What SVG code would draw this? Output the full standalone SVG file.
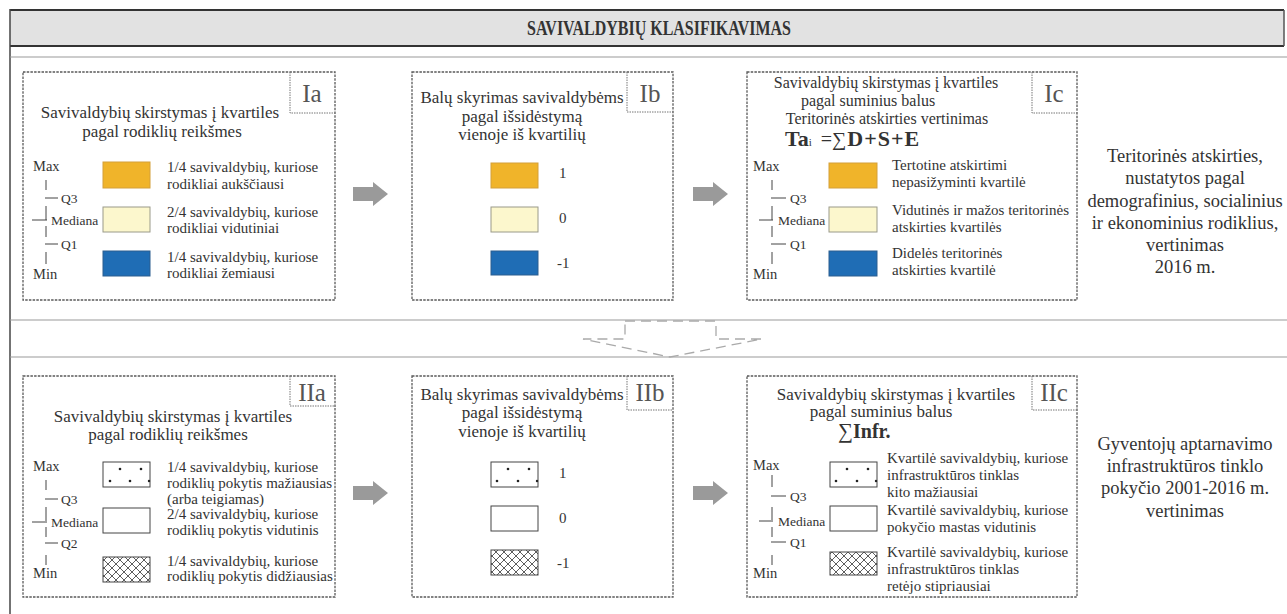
<svg xmlns="http://www.w3.org/2000/svg" width="1287" height="614" viewBox="0 0 1287 614">
<style>
text{font-family:"Liberation Serif","DejaVu Serif",serif;fill:#333}
.t17{font-size:17px}
.t16{font-size:16px}
.t15{font-size:15px}
.t14{font-size:14.5px}
.t13{font-size:13.5px}
.lab{font-size:25px;fill:#555}
.rt{font-size:18.5px;text-anchor:middle}
.mid{text-anchor:middle}
.box{fill:none;stroke:#5a5a5a;stroke-width:1.3;stroke-dasharray:2.5 1.2}
.lbox{fill:none;stroke:#777;stroke-width:1;stroke-dasharray:1.5 1}
.sep{stroke:#999;stroke-width:1.2}
.sc{stroke:#444;stroke-width:1;fill:none}
.sw-o{fill:#f0b42a;stroke:#d4a03a;stroke-width:1}
.sw-y{fill:#fcf7cd;stroke:#9a9a8a;stroke-width:1}
.sw-b{fill:#1f6db5;stroke:#2d5f8f;stroke-width:1}
.sw-w{fill:#fff;stroke:#444;stroke-width:1}
.sw-h{fill:url(#hatch);stroke:#444;stroke-width:1}
.arr{fill:#9a9a9a}
.dot{fill:#222}
</style>
<defs>
<pattern id="hatch" width="8" height="8" patternUnits="userSpaceOnUse">
<rect width="8" height="8" fill="#fff"/>
<path d="M0,0 L8,8 M8,0 L0,8 M-2,6 L2,10 M6,-2 L10,2 M-2,2 L2,-2 M6,10 L10,6" stroke="#333" stroke-width="0.8"/>
</pattern>
<path id="garrow" d="M0,-7 H20 V-12 L35,0 L20,12 V7 H0 Z"/>
</defs>

<!-- frame / header -->
<g id="header">
<rect x="10" y="10" width="1274" height="36" fill="#e2e2e2"/>
<line x1="10" y1="10" x2="1284" y2="10" stroke="#333" stroke-width="2"/>
<line x1="10" y1="46" x2="1284" y2="46" stroke="#333" stroke-width="2"/>
<line x1="1284" y1="10" x2="1284" y2="46" stroke="#555" stroke-width="1.5"/>
<line x1="10" y1="9" x2="10" y2="614" stroke="#444" stroke-width="1.5"/>
<text x="659" y="35" text-anchor="middle" font-weight="bold" font-size="20.5" textLength="264" lengthAdjust="spacingAndGlyphs">SAVIVALDYBIŲ KLASIFIKAVIMAS</text>
</g>
<g id="separators">
<line class="sep" x1="10" y1="57" x2="1287" y2="57"/>
<line class="sep" x1="10" y1="320" x2="1287" y2="320"/>
<line class="sep" x1="10" y1="357" x2="1287" y2="357"/>
</g>

<!-- Ia -->
<g id="Ia">
<rect class="box" x="23" y="72" width="312" height="228"/>
<path class="lbox" d="M290,72 V113 H335"/>
<text class="lab mid" x="312" y="102">Ia</text>
<text class="t17 mid" x="160" y="118">Savivaldybių skirstymas į kvartiles</text>
<text class="t17 mid" x="162" y="137">pagal rodiklių reikšmes</text>
<g class="scale">
<text class="t14" x="33" y="171">Max</text>
<path class="sc" d="M46,180 V190 M45,198 H58 M46,206 V220 M32,220 H47 M46,226 V237 M45,244 H58 M46,252 V264"/>
<text class="t13" x="61" y="203">Q3</text>
<text class="t13" x="51" y="225">Mediana</text>
<text class="t13" x="61" y="249">Q1</text>
<text class="t14" x="33" y="279">Min</text>
</g>
<rect class="sw-o" x="103" y="162" width="47" height="26"/>
<rect class="sw-y" x="103" y="207" width="47" height="25"/>
<rect class="sw-b" x="103" y="251" width="47" height="25"/>
<text class="t15" x="167" y="172">1/4 savivaldybių, kuriose</text>
<text class="t15" x="167" y="189">rodikliai aukščiausi</text>
<text class="t15" x="167" y="217">2/4 savivaldybių, kuriose</text>
<text class="t15" x="167" y="233">rodikliai vidutiniai</text>
<text class="t15" x="167" y="262">1/4 savivaldybių, kuriose</text>
<text class="t15" x="167" y="278">rodikliai žemiausi</text>
</g>

<!-- Ib -->
<g id="Ib">
<rect class="box" x="412" y="72" width="261" height="228"/>
<path class="lbox" d="M627,72 V112 H673"/>
<text class="lab mid" x="650" y="102">Ib</text>
<text class="t17 mid" x="522" y="103">Balų skyrimas savivaldybėms</text>
<text class="t17 mid" x="522" y="122">pagal išsidėstymą</text>
<text class="t17 mid" x="522" y="140">vienoje iš kvartilių</text>
<rect class="sw-o" x="491" y="163" width="47" height="25"/>
<rect class="sw-y" x="491" y="207" width="47" height="25"/>
<rect class="sw-b" x="491" y="251" width="47" height="24"/>
<text class="t15" x="559" y="178">1</text>
<text class="t15" x="559" y="223">0</text>
<text class="t15" x="557" y="268">-1</text>
</g>

<!-- Ic -->
<g id="Ic">
<rect class="box" x="747" y="72" width="330" height="228"/>
<path class="lbox" d="M1032,72 V113 H1077"/>
<text class="lab mid" x="1054" y="102">Ic</text>
<text class="t16 mid" x="886" y="88">Savivaldybių skirstymas į kvartiles</text>
<text class="t16 mid" x="868" y="106">pagal suminius balus</text>
<text class="t16 mid" x="887" y="124">Teritorinės atskirties vertinimas</text>
<text x="785" y="146"><tspan font-weight="bold" font-size="22">Ta</tspan><tspan font-size="11">i</tspan><tspan font-size="20" dx="9">=∑</tspan><tspan font-weight="bold" font-size="22" dx="1" letter-spacing="1">D+S+E</tspan></text>
<g class="scale">
<text class="t14" x="753" y="171">Max</text>
<path class="sc" d="M772,180 V190 M771,198 H786 M772,206 V220 M759,220 H773 M772,226 V237 M771,244 H786 M772,252 V264"/>
<text class="t13" x="790" y="203">Q3</text>
<text class="t13" x="778" y="225">Mediana</text>
<text class="t13" x="790" y="249">Q1</text>
<text class="t14" x="753" y="279">Min</text>
</g>
<rect class="sw-o" x="829" y="163" width="48" height="25"/>
<rect class="sw-y" x="829" y="207" width="48" height="25"/>
<rect class="sw-b" x="829" y="251" width="48" height="25"/>
<text class="t15" x="892" y="170">Tertotine atskirtimi</text>
<text class="t15" x="892" y="187">nepasižyminti kvartilė</text>
<text class="t15" x="892" y="215">Vidutinės ir mažos teritorinės</text>
<text class="t15" x="892" y="232">atskirties kvartilės</text>
<text class="t15" x="892" y="258">Didelės teritorinės</text>
<text class="t15" x="892" y="275">atskirties kvartilė</text>
</g>

<g id="note-top">
<text class="rt" x="1185" y="162">Teritorinės atskirties,</text>
<text class="rt" x="1185" y="184">nustatytos pagal</text>
<text class="rt" x="1185" y="207">demografinius, socialinius</text>
<text class="rt" x="1185" y="229">ir ekonominius rodiklius,</text>
<text class="rt" x="1185" y="251">vertinimas</text>
<text class="rt" x="1185" y="273">2016 m.</text>
</g>

<!-- IIa -->
<g id="IIa">
<rect class="box" x="23" y="376" width="312" height="221"/>
<path class="lbox" d="M290,376 V406 H335"/>
<text class="lab mid" x="312" y="401">IIa</text>
<text class="t17 mid" x="173" y="422">Savivaldybių skirstymas į kvartiles</text>
<text class="t17 mid" x="168" y="440">pagal rodiklių reikšmes</text>
<g class="scale">
<text class="t14" x="33" y="471">Max</text>
<path class="sc" d="M46,480 V490 M45,499 H58 M46,507 V521 M32,522 H47 M46,527 V537 M45,543 H58 M46,555 V565"/>
<text class="t13" x="61" y="504">Q3</text>
<text class="t13" x="51" y="527">Mediana</text>
<text class="t13" x="61" y="548">Q2</text>
<text class="t14" x="33" y="578">Min</text>
</g>
<g class="swatch-dots">
<rect class="sw-w" x="103" y="462" width="47" height="25"/>
<circle class="dot" cx="120" cy="469" r="1.3"/><circle class="dot" cx="141" cy="469" r="1.3"/>
<circle class="dot" cx="110" cy="481" r="1.3"/><circle class="dot" cx="130" cy="481" r="1.3"/><circle class="dot" cx="149" cy="481" r="1.2"/>
</g>
<rect class="sw-w" x="103" y="508" width="47" height="25"/>
<rect class="sw-h" x="103" y="557" width="47" height="25"/>
<text class="t15" x="167" y="472">1/4 savivaldybių, kuriose</text>
<text class="t15" x="167" y="488">rodiklių pokytis mažiausias</text>
<text class="t15" x="167" y="504">(arba teigiamas)</text>
<text class="t15" x="167" y="519">2/4 savivaldybių, kuriose</text>
<text class="t15" x="167" y="535">rodiklių pokytis vidutinis</text>
<text class="t15" x="167" y="566">1/4 savivaldybių, kuriose</text>
<text class="t15" x="167" y="581">rodiklių pokytis didžiausias</text>
</g>

<!-- IIb -->
<g id="IIb">
<rect class="box" x="412" y="376" width="261" height="221"/>
<path class="lbox" d="M627,376 V410 H673"/>
<text class="lab mid" x="650" y="401">IIb</text>
<text class="t17 mid" x="522" y="400">Balų skyrimas savivaldybėms</text>
<text class="t17 mid" x="522" y="418">pagal išsidėstymą</text>
<text class="t17 mid" x="522" y="437">vienoje iš kvartilių</text>
<g class="swatch-dots">
<rect class="sw-w" x="491" y="462" width="47" height="25"/>
<circle class="dot" cx="508" cy="469" r="1.3"/><circle class="dot" cx="529" cy="469" r="1.3"/>
<circle class="dot" cx="497" cy="481" r="1.3"/><circle class="dot" cx="518" cy="481" r="1.3"/><circle class="dot" cx="537" cy="481" r="1.2"/>
</g>
<rect class="sw-w" x="491" y="506" width="47" height="25"/>
<rect class="sw-h" x="491" y="550" width="47" height="25"/>
<text class="t15" x="559" y="478">1</text>
<text class="t15" x="559" y="523">0</text>
<text class="t15" x="557" y="568">-1</text>
</g>

<!-- IIc -->
<g id="IIc">
<rect class="box" x="747" y="376" width="330" height="221"/>
<path class="lbox" d="M1032,376 V410 H1077"/>
<text class="lab mid" x="1054" y="401">IIc</text>
<text class="t17 mid" x="896" y="400">Savivaldybių skirstymas į kvartiles</text>
<text class="t17 mid" x="881" y="417">pagal suminius balus</text>
<text x="838" y="438"><tspan font-size="21">∑</tspan><tspan font-weight="bold" font-size="20">Infr.</tspan></text>
<g class="scale">
<text class="t14" x="753" y="470">Max</text>
<path class="sc" d="M772,475 V487 M771,496 H786 M772,507 V520 M759,521 H773 M772,527 V537 M771,542 H786 M772,555 V565"/>
<text class="t13" x="790" y="501">Q3</text>
<text class="t13" x="778" y="526">Mediana</text>
<text class="t13" x="790" y="547">Q1</text>
<text class="t14" x="753" y="578">Min</text>
</g>
<g class="swatch-dots">
<rect class="sw-w" x="830" y="462" width="47" height="25"/>
<circle class="dot" cx="847" cy="469" r="1.3"/><circle class="dot" cx="868" cy="469" r="1.3"/>
<circle class="dot" cx="836" cy="481" r="1.3"/><circle class="dot" cx="857" cy="481" r="1.3"/><circle class="dot" cx="876" cy="481" r="1.2"/>
</g>
<rect class="sw-w" x="830" y="506" width="47" height="25"/>
<rect class="sw-h" x="830" y="552" width="47" height="23"/>
<text class="t15" x="887" y="463">Kvartilė savivaldybių, kuriose</text>
<text class="t15" x="887" y="480">infrastruktūros tinklas</text>
<text class="t15" x="887" y="497">kito mažiausiai</text>
<text class="t15" x="887" y="515">Kvartilė savivaldybių, kuriose</text>
<text class="t15" x="887" y="532">pokyčio mastas vidutinis</text>
<text class="t15" x="887" y="557">Kvartilė savivaldybių, kuriose</text>
<text class="t15" x="887" y="574">infrastruktūros tinklas</text>
<text class="t15" x="887" y="591">retėjo stipriausiai</text>
</g>

<g id="note-bottom">
<text class="rt" x="1185" y="450">Gyventojų aptarnavimo</text>
<text class="rt" x="1185" y="472">infrastruktūros tinklo</text>
<text class="rt" x="1185" y="494">pokyčio 2001-2016 m.</text>
<text class="rt" x="1185" y="517">vertinimas</text>
</g>

<!-- connectors -->
<g id="connectors">
<use href="#garrow" class="arr" x="353" y="194"/>
<use href="#garrow" class="arr" x="693" y="194"/>
<use href="#garrow" class="arr" x="353" y="493"/>
<use href="#garrow" class="arr" x="693" y="493"/>
<path d="M625,321 H716 V339 H762 L670,357 L583,339 H625 Z" fill="none" stroke="#aaa" stroke-width="1.3" stroke-dasharray="10 6"/>
</g>
</svg>
